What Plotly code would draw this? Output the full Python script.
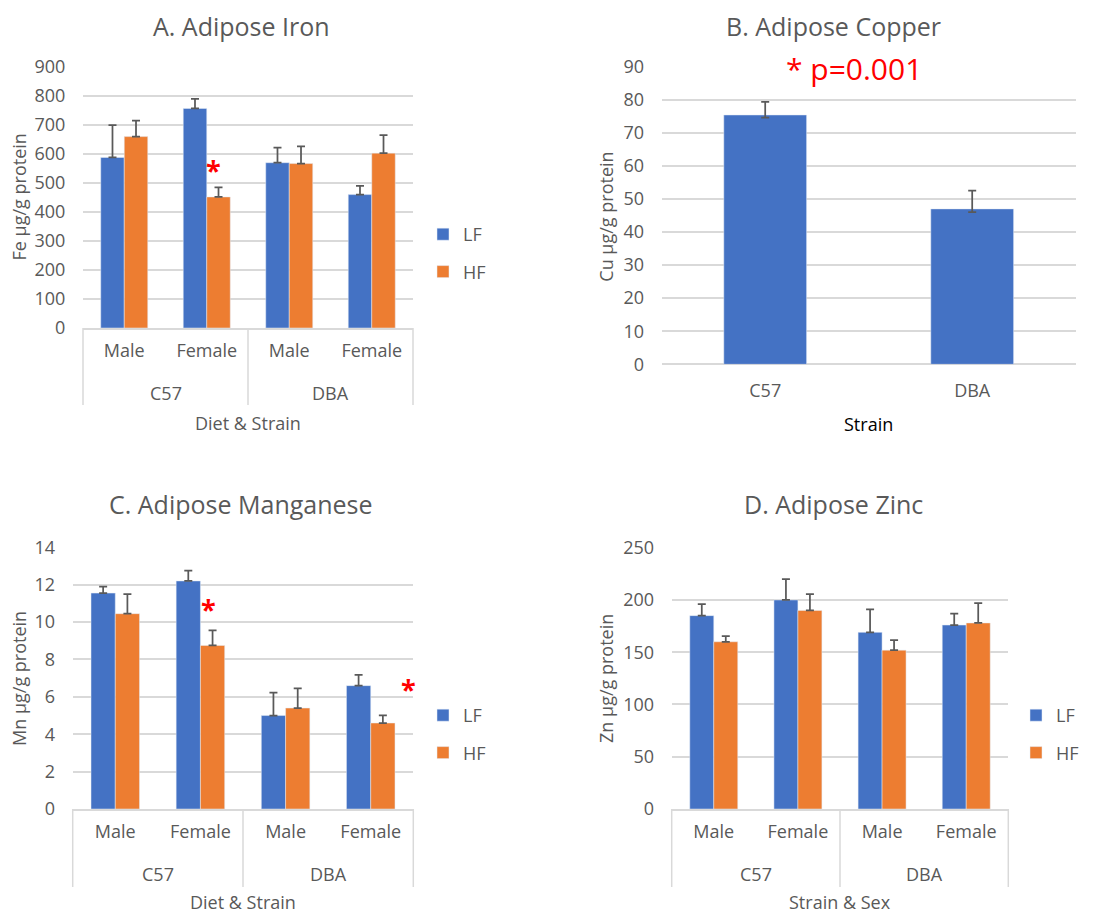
import plotly.graph_objects as go

W, H = 1109, 915
OFF = 8  # page body margin of the html page
FW, FH = W - OFF, H - OFF

strains = ["C57", "C57", "DBA", "DBA"]
sexes = ["Male", "Female", "Male", "Female"]
strain_groups = ["C57", "DBA"]

fe_lf = [588, 757, 570, 460]
fe_lf_err = [112, 33, 52, 30]
fe_hf = [660, 452, 567, 603]
fe_hf_err = [55, 33, 59, 62]

cu_strains = ["C57", "DBA"]
cu_vals = [75.4, 47.0]
cu_err_plus = [4.0, 5.5]
cu_err_minus = [0.8, 1.0]

mn_lf = [11.55, 12.2, 5.0, 6.6]
mn_lf_err = [0.35, 0.55, 1.22, 0.57]
mn_hf = [10.45, 8.75, 5.4, 4.6]
mn_hf_err = [1.05, 0.81, 1.05, 0.41]

zn_lf = [185, 200, 169, 176]
zn_lf_err = [11, 20, 22, 11]
zn_hf = [160, 190, 152, 178]
zn_hf_err = [5.5, 15.5, 9.5, 19]

BLUE = "#4472C4"
ORANGE = "#ED7D31"
GRID = "#D9D9D9"
TXT = "#595959"
ERR = "#595959"
FONT = "Open Sans"

xcats = [f"{s} {x}" for s, x in zip(strains, sexes)]


def px_x(p):
    return (p - OFF) / FW


def px_y(p):
    return 1 - (p - OFF) / FH


fig = go.Figure()


def add_pair(lf, lf_e, hf, hf_e, xa, ya, legend):
    fig.add_trace(go.Bar(x=xcats, y=lf, name="LF", marker_color=BLUE,
                         error_y=dict(type="data", array=lf_e, arrayminus=[0] * len(lf),
                                      symmetric=False, color=ERR, thickness=1.75, width=4),
                         xaxis=xa, yaxis=ya, legend=legend, legendgroup="LF" + legend))
    fig.add_trace(go.Bar(x=xcats, y=hf, name="HF", marker_color=ORANGE,
                         error_y=dict(type="data", array=hf_e, arrayminus=[0] * len(hf),
                                      symmetric=False, color=ERR, thickness=1.75, width=4),
                         xaxis=xa, yaxis=ya, legend=legend, legendgroup="HF" + legend))


add_pair(fe_lf, fe_lf_err, fe_hf, fe_hf_err, "x", "y", "legend")
fig.add_trace(go.Bar(x=cu_strains, y=cu_vals, name="Cu", marker_color=BLUE, width=0.4,
                     error_y=dict(type="data", array=cu_err_plus, arrayminus=cu_err_minus,
                                  symmetric=False, color=ERR, thickness=1.75, width=4),
                     xaxis="x2", yaxis="y2", showlegend=False))
add_pair(mn_lf, mn_lf_err, mn_hf, mn_hf_err, "x3", "y3", "legend2")
add_pair(zn_lf, zn_lf_err, zn_hf, zn_hf_err, "x4", "y4", "legend3")

# pixel geometry of each plot area: x (left, right), y (top, bottom)
panels = {
    1: dict(x=(83, 413), y=(67, 328), rng=[0, 900], dt=100, grp=True, lab=393, div=405),
    2: dict(x=(661.7, 1075.7), y=(66.7, 364.3), rng=[0, 90], dt=10, grp=False),
    3: dict(x=(72.7, 413.3), y=(547.3, 809), rng=[0, 14], dt=2, grp=True, lab=874, div=887),
    4: dict(x=(671.7, 1008.3), y=(547.7, 809), rng=[0, 250], dt=50, grp=True, lab=874, div=887),
}

layout = dict(
    width=FW, height=FH, margin=dict(l=0, r=0, t=0, b=0, pad=0), autosize=False,
    paper_bgcolor="white", plot_bgcolor="white",
    barmode="group", bargap=0.43, bargroupgap=0,
    font=dict(family=FONT, size=18, color=TXT),
)

for i, p in panels.items():
    s = "" if i == 1 else str(i)
    grp = p["grp"]
    xa = dict(
        domain=[px_x(p["x"][0]), px_x(p["x"][1])],
        anchor="y" + s, type="category", automargin=False,
        showline=grp, linecolor=GRID, linewidth=1.5,
        showgrid=False, zeroline=False,
        ticks="outside", ticklen=6 if grp else 10, tickcolor="rgba(0,0,0,0)",
        tickfont=dict(size=18, color=TXT),
    )
    if grp:
        xa.update(tickmode="array", tickvals=xcats, ticktext=sexes)
    layout["xaxis" + s] = xa
    layout["yaxis" + s] = dict(
        domain=[px_y(p["y"][1]), px_y(p["y"][0])],
        anchor="x" + s, automargin=False,
        range=p["rng"], dtick=p["dt"], tick0=0,
        showgrid=True, gridcolor=GRID, gridwidth=1.5,
        zeroline=not grp, zerolinecolor=GRID, zerolinewidth=1.5,
        showline=False, ticks="outside", ticklen=13, tickcolor="rgba(0,0,0,0)",
        tickfont=dict(size=18, color=TXT),
    )

leg_common = dict(font=dict(size=18, color=TXT), bgcolor="rgba(0,0,0,0)",
                  tracegroupgap=11, xanchor="left", yanchor="middle")
layout["legend"] = dict(x=px_x(423), y=px_y(253), **leg_common)
layout["legend2"] = dict(x=px_x(423), y=px_y(734), **leg_common)
layout["legend3"] = dict(x=px_x(1016), y=px_y(734), **leg_common)

fig.update_layout(**layout)

# second category level (strain) with dividers, as in the grouped axis
for i, p in panels.items():
    if not p["grp"]:
        continue
    x0, x1 = p["x"]
    n = len(strain_groups)
    for k, g in enumerate(strain_groups):
        cx = x0 + (x1 - x0) * (k + 0.5) / n
        fig.add_annotation(text=g, x=px_x(cx), y=px_y(p["lab"]), xref="paper", yref="paper",
                           showarrow=False, font=dict(size=18, color=TXT),
                           xanchor="center", yanchor="middle")
    for k in range(n + 1):
        dx = x0 + (x1 - x0) * k / n
        fig.add_shape(type="line", xref="paper", yref="paper",
                      x0=px_x(dx), x1=px_x(dx), y0=px_y(p["y"][1]), y1=px_y(p["div"]),
                      line=dict(color=GRID, width=1.5))

titles = [
    ("A. Adipose Iron", 241, 26),
    ("B. Adipose Copper", 833.5, 26),
    ("C. Adipose Manganese", 240.5, 504),
    ("D. Adipose Zinc", 833, 504),
]
for t, cx, cy in titles:
    fig.add_annotation(text=t, x=px_x(cx), y=px_y(cy), xref="paper", yref="paper",
                       showarrow=False, font=dict(size=25, color=TXT),
                       xanchor="center", yanchor="middle")

ytitles = [
    ("Fe µg/g protein", 19, 197.5),
    ("Cu µg/g protein", 606, 216.7),
    ("Mn µg/g protein", 19, 679),
    ("Zn µg/g protein", 606, 679),
]
for t, cx, cy in ytitles:
    fig.add_annotation(text=t, x=px_x(cx), y=px_y(cy), xref="paper", yref="paper",
                       showarrow=False, textangle=-90, font=dict(size=18, color=TXT),
                       xanchor="center", yanchor="middle")

xtitles = [
    ("Diet & Strain", 247.5, 423, TXT),
    ("Strain", 868.5, 424, "#000000"),
    ("Diet & Strain", 242.7, 902, TXT),
    ("Strain & Sex", 840, 902, TXT),
]
for t, cx, cy, c in xtitles:
    fig.add_annotation(text=t, x=px_x(cx), y=px_y(cy), xref="paper", yref="paper",
                       showarrow=False, font=dict(size=18, color=c),
                       xanchor="center", yanchor="middle")

# significance markers
stars = [
    ("x domain", "y", 0.394, 548),
    ("x3 domain", "y3", 0.40, 10.7),
    ("x3 domain", "y3", 0.985, 6.45),
]
for xr, yr, xv, yv in stars:
    fig.add_annotation(text="<b>*</b>", x=xv, y=yv, xref=xr, yref=yr, showarrow=False,
                       font=dict(size=27, color="#FF0000"), xanchor="center", yanchor="middle")

fig.add_annotation(text="* p=0.001", x=0.465, y=89.6, xref="x2 domain", yref="y2",
                   showarrow=False, font=dict(size=30, color="#FF0000"),
                   xanchor="center", yanchor="middle")

fig.write_html("out.html")
